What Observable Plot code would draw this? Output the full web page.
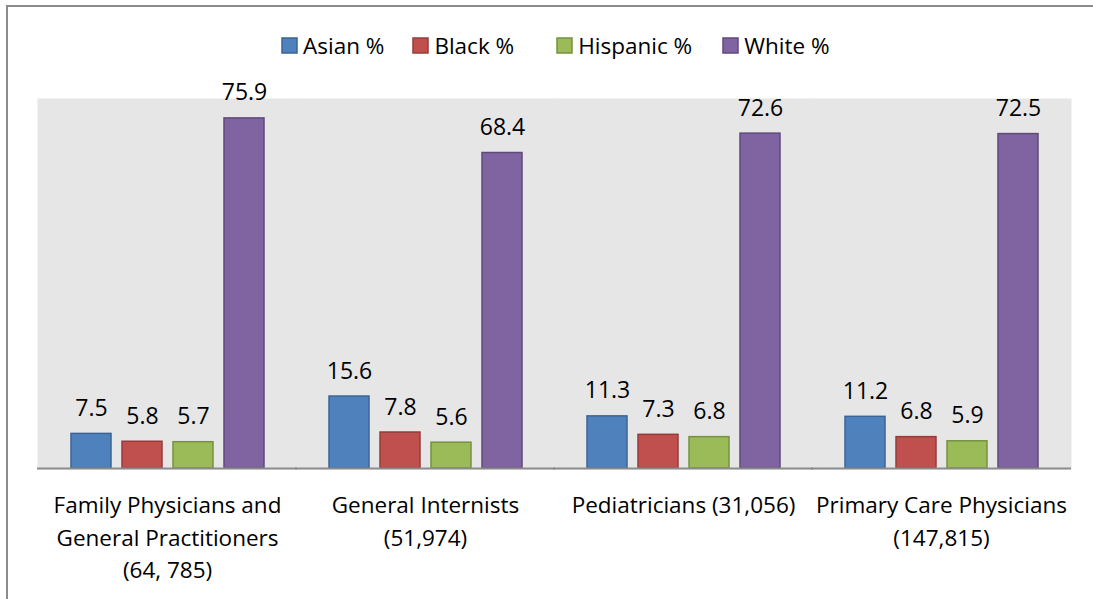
<!DOCTYPE html>
<html><head><meta charset="utf-8">
<script src="https://cdn.jsdelivr.net/npm/d3@7"></script>
<script src="https://cdn.jsdelivr.net/npm/@observablehq/plot@0.6"></script>
<style>
html,body{margin:0;padding:0;background:#fff;overflow:hidden;}
#wrap{position:relative;width:1093px;height:599px;overflow:hidden;font-family:"Open Sans",sans-serif;}
#frame{position:absolute;left:6px;top:5px;width:1087px;height:594px;border-top:2px solid #8c8c8c;border-left:2px solid #8c8c8c;box-sizing:border-box;}
#chart{position:absolute;left:0;top:0;}
#legend{position:absolute;left:282px;top:29px;white-space:nowrap;}
#cover{position:absolute;left:1076px;top:8px;width:17px;height:591px;background:#fff;}
.leg-swatches{margin:0 !important;}
.leg-swatch{margin-right:0 !important;}
.leg-swatch > svg{margin-right:6px !important;}
.leg-swatch:nth-of-type(1){margin-right:29px !important;}
.leg-swatch:nth-of-type(2){margin-right:43px !important;}
.leg-swatch:nth-of-type(3){margin-right:31px !important;}
.leg-swatch:nth-of-type(1) rect{stroke:#3B6496;stroke-width:1.5px;}
.leg-swatch:nth-of-type(2) rect{stroke:#943C3A;stroke-width:1.5px;}
.leg-swatch:nth-of-type(3) rect{stroke:#76923F;stroke-width:1.5px;}
.leg-swatch:nth-of-type(4) rect{stroke:#5F4A7B;stroke-width:1.5px;}
</style></head><body>
<div id="wrap"><div id="frame"></div><div id="chart"></div><div id="legend"></div><div id="cover"></div></div>
<script>
const categories = ["Family", "Internists", "Pediatricians", "Primary"];
const categoryLabels = [
  "Family Physicians and\nGeneral Practitioners\n(64, 785)",
  "General Internists\n(51,974)",
  "Pediatricians (31,056)",
  "Primary Care Physicians\n(147,815)"
];
const series = ["Asian %", "Black %", "Hispanic %", "White %"];
const asian = [7.5, 15.6, 11.3, 11.2];
const black = [5.8, 7.8, 7.3, 6.8];
const hispanic = [5.7, 5.6, 6.8, 5.9];
const white = [75.9, 68.4, 72.6, 72.5];
const colors = ["#4F81BD", "#C0504D", "#9BBB59", "#8064A2"];
const strokes = ["#3B6496", "#943C3A", "#76923F", "#5F4A7B"];

const seriesValues = [asian, black, hispanic, white];
const data = [];
categories.forEach((c, i) => {
  seriesValues.forEach((arr, j) => data.push({category: c, series: series[j], value: arr[i], stroke: strokes[j]}));
});
const labelRows = categories.map((c, i) => ({category: c, label: categoryLabels[i]}));

const chart = Plot.plot({
  width: 1093, height: 599,
  marginTop: 99, marginLeft: 36, marginRight: 22, marginBottom: 131,
  style: {fontFamily: "'Open Sans', sans-serif", fontSize: "22.5px", color: "#000", background: "transparent", overflow: "visible"},
  fx: {domain: categories, padding: 0, axis: null},
  x: {domain: series, paddingInner: 0.22, paddingOuter: 0.598, axis: null},
  y: {domain: [0, 80], axis: null},
  color: {domain: series, range: colors},
  marks: [
    Plot.frame({fill: "#e6e6e6", stroke: "#e6e6e6", strokeWidth: 2}),
    Plot.barY(data, {fx: "category", x: "series", y: "value", fill: "series", stroke: "stroke", strokeWidth: 1.5}),
    Plot.ruleY([0], {stroke: "#8c8c8c", strokeWidth: 2, insetRight: -1, insetLeft: -1}),
    Plot.text(data, {fx: "category", x: "series", y: "value", text: d => d.value.toFixed(1), lineAnchor: "bottom", dy: -18, fontSize: 23, fill: "#000"}),
    Plot.text(labelRows, {fx: "category", text: "label", frameAnchor: "bottom", lineAnchor: "top", dy: 22, lineHeight: 1.43, fontSize: 22.5, fill: "#000"})
  ]
});
document.getElementById("chart").appendChild(chart);

const legend = Plot.legend({
  color: {domain: series, range: colors},
  legend: "swatches",
  swatchSize: 15,
  className: "leg",
  style: {fontFamily: "'Open Sans', sans-serif", fontSize: "22.5px", color: "#000"}
});
document.getElementById("legend").appendChild(legend);
</script>
</body></html>
